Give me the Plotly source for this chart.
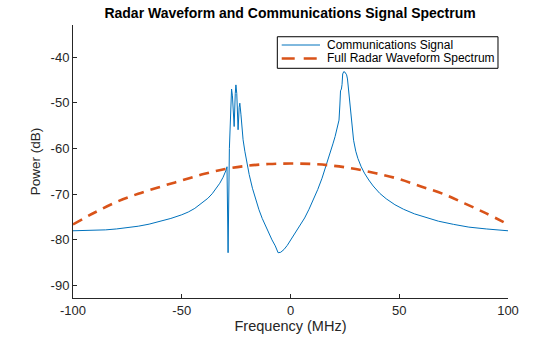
import plotly.graph_objects as go

# Communications signal spectrum (MHz, dB)
comm_freq = [-100, -90, -85, -80, -75, -70, -65, -60, -55, -50, -47, -44, -41, -38, -36, -34, -32.5,
             -31, -30, -29.5, -29.2, -28.7, -28.1, -27.6, -27.1, -26.7, -25.9, -25.4, -25.1, -24.7,
             -24.1, -23.6, -23.3, -22.8, -22.3, -21.8, -21.0, -20.0, -19.0, -17.5, -16.0, -14.5,
             -13.0, -11.5, -10.0, -8.5, -7.0, -5.7, -4.5, -3.0, -1.5, 0.5, 2.5, 4.5, 6.5, 8.5, 10.5,
             12.5, 14.5, 16.5, 18.0, 19.5, 20.5, 21.5, 22.0, 22.3, 22.7, 23.0, 23.4, 23.7, 24.0,
             24.5, 25.0, 25.4, 25.8, 26.2, 26.6, 27.0, 27.6, 28.2, 29.0, 30.0, 31.0, 32.5, 34.0,
             36.0, 38.0, 41.0, 44.0, 48.0, 52.0, 57.0, 62.0, 68.0, 75.0, 82.0, 90.0, 100.0]
comm_db = [-78.0, -77.95, -77.8, -77.6, -77.35, -77.0, -76.55, -76.0, -75.3, -74.5, -73.9, -73.1,
           -72.1, -70.9, -69.9, -68.7, -67.6, -66.3, -65.3, -64.6, -64.0, -82.8, -60.0, -50.5,
           -47.0, -48.5, -55.2, -48.0, -46.1, -48.0, -55.9, -51.0, -50.1, -52.5, -55.5, -58.1,
           -60.6, -63.3, -65.7, -68.7, -71.2, -73.4, -75.3, -77.0, -78.6, -80.0, -81.3, -82.8,
           -82.7, -82.1, -81.2, -79.7, -78.4, -76.9, -75.2, -73.3, -71.3, -69.0, -66.5, -63.7,
           -61.5, -59.0, -57.4, -55.3, -54.3, -53.8, -50.5, -47.4, -47.0, -46.0, -43.7, -43.2,
           -43.3, -43.5, -43.9, -44.8, -46.8, -49.4, -52.5, -55.5, -58.2, -60.6, -62.2, -64.0,
           -65.4, -66.9, -68.2, -69.8, -71.0, -72.3, -73.3, -74.3, -75.1, -75.9, -76.6, -77.2,
           -77.6, -78.0]

# Full radar waveform spectrum
radar_freq = [-100, -90, -80, -70, -60, -50, -40, -30, -20, -10, 0, 10, 20, 30, 40, 50, 60, 70, 80, 90, 100]
radar_db = [-76.6, -74.0, -71.7, -69.9, -68.4, -67.0, -65.6, -64.5, -63.8, -63.4, -63.3, -63.4, -63.8,
            -64.5, -65.5, -66.7, -68.3, -69.9, -72.0, -74.2, -76.6]

x_ticks = [-100, -50, 0, 50, 100]
x_tick_text = ["-100", "-50", "0", "50", "100"]
y_ticks = [-90, -80, -70, -60, -50, -40]
y_tick_text = ["-90", "-80", "-70", "-60", "-50", "-40"]

series_names = ["Communications Signal", "Full Radar Waveform Spectrum"]
series_colors = ["#0072BD", "#D95319"]

FONT = "Liberation Sans, Arial, Helvetica, sans-serif"
AX = "#262626"

fig = go.Figure()
fig.add_trace(go.Scatter(x=comm_freq, y=comm_db, mode="lines", name=series_names[0],
                         line=dict(color=series_colors[0], width=1)))
fig.add_trace(go.Scatter(x=radar_freq, y=radar_db, mode="lines", name=series_names[1],
                         line=dict(color=series_colors[1], width=2.6, dash="10px,7px"),
                         line_shape="spline"))

# Legend box drawn in paper coordinates (plot area fractions)
lx0, lx1, ly0, ly1 = 0.4697, 0.9770, 0.8414, 0.9570
row_y = [0.9267, 0.8773]
sx0, sx1, tx = 0.4798, 0.5678, 0.5793
shapes = [dict(type="rect", xref="paper", yref="paper", x0=lx0, x1=lx1, y0=ly0, y1=ly1,
               line=dict(color="black", width=1), fillcolor="white", layer="above")]
shapes.append(dict(type="line", xref="paper", yref="paper", x0=sx0, x1=sx1, y0=row_y[0], y1=row_y[0],
                   line=dict(color=series_colors[0], width=1), layer="above"))
shapes.append(dict(type="line", xref="paper", yref="paper", x0=sx0, x1=sx1, y0=row_y[1], y1=row_y[1],
                   line=dict(color=series_colors[1], width=2.6, dash="13px,9px"), layer="above"))
annotations = [dict(xref="paper", yref="paper", x=tx, y=ry, text=name, showarrow=False,
                    xanchor="left", yanchor="middle", font=dict(size=12, color="black"))
               for ry, name in zip(row_y, series_names)]

fig.update_layout(
    width=560, height=337,
    margin=dict(l=73, r=52, t=25, b=39, autoexpand=False),
    paper_bgcolor="white", plot_bgcolor="white",
    font=dict(family=FONT, size=13, color=AX),
    showlegend=False,
    shapes=shapes, annotations=annotations,
    title=dict(text="<b>Radar Waveform and Communications Signal Spectrum</b>",
               x=0.518, xanchor="center", y=0.96, yanchor="middle",
               font=dict(size=14, color="black")),
    xaxis=dict(range=[-100, 100], tickvals=x_ticks, ticktext=x_tick_text, ticks="inside", ticklen=4,
               tickcolor=AX, showline=True, linecolor=AX, linewidth=1, showgrid=False, zeroline=False,
               automargin=False,
               title=dict(text="Frequency (MHz)", font=dict(size=14.5), standoff=2),
               tickfont=dict(size=13, color=AX)),
    yaxis=dict(range=[-92.7, -33.0], tickvals=y_ticks, ticktext=y_tick_text, ticks="inside", ticklen=4,
               tickcolor=AX, showline=True, linecolor=AX, linewidth=1, showgrid=False, zeroline=False,
               automargin=False,
               title=dict(text="Power (dB)", font=dict(size=13.5), standoff=6),
               tickfont=dict(size=13, color=AX)),
)

fig.write_html("out.html", config={"displayModeBar": False})
